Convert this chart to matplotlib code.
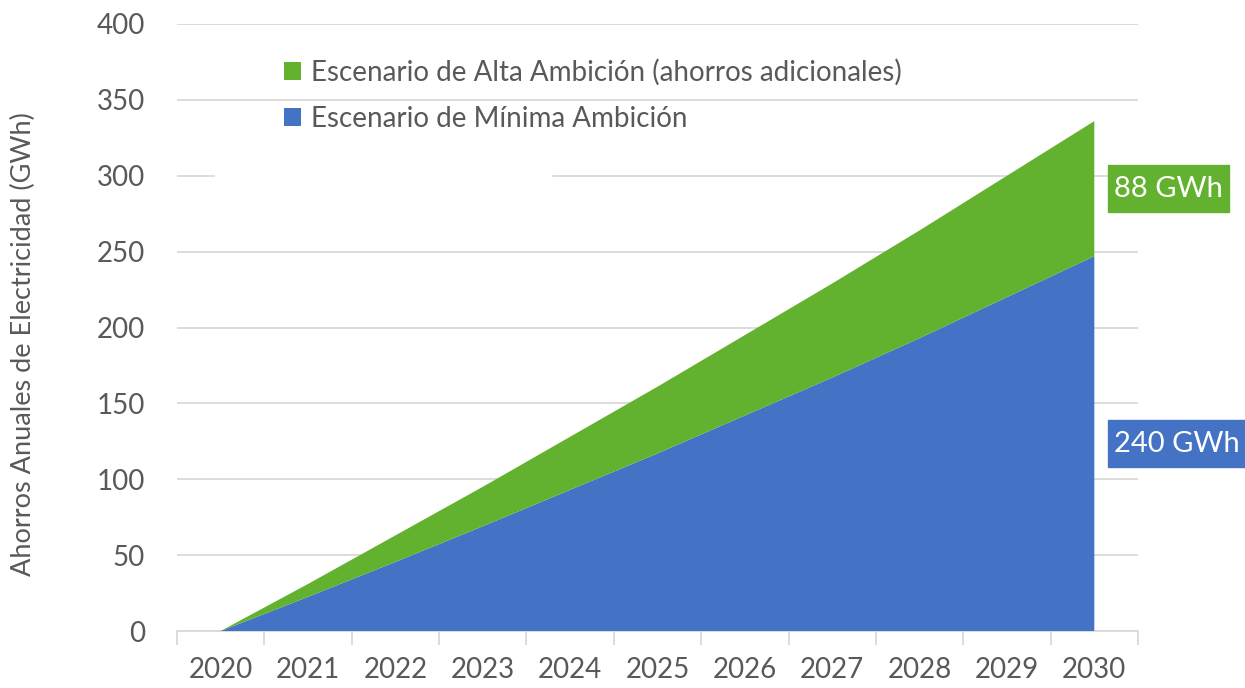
import matplotlib.pyplot as plt
from matplotlib.patches import Rectangle
import numpy as np

# data
years = ['2020', '2021', '2022', '2023', '2024', '2025', '2026', '2027', '2028', '2029', '2030']
minima = [0, 22.5, 45.5, 69, 93, 117, 142, 167, 193, 220, 247]
alta_extra = [0, 8.5, 17.5, 26, 35, 44, 53, 62, 71, 80, 89]
label_minima = '240 GWh'
label_alta = '88 GWh'

blue = '#4472c4'
green = '#63b22f'
grey = '#595959'
grid = '#d9d9d9'

plt.rcParams['font.family'] = ['Lato', 'DejaVu Sans']

fig = plt.figure(figsize=(12.45, 6.88), dpi=100)
ax = fig.add_axes([177 / 1245, 1 - 631 / 688, (1138 - 177) / 1245, (631 - 24) / 688])

x = np.arange(len(years))
ax.stackplot(x, minima, alta_extra, colors=[blue, green],
             labels=['Escenario de Mínima Ambición',
                     'Escenario de Alta Ambición (ahorros adicionales)'],
             zorder=3)

ax.set_xlim(-0.5, len(years) - 0.5)
ax.set_ylim(0, 400)
ax.set_yticks(range(0, 401, 50))
ax.yaxis.grid(True, color=grid, lw=1.3)
ax.set_axisbelow(True)

# a white patch hides part of the 300 line
ax.add_patch(Rectangle((-0.06, 292), 3.84, 16, color='white', zorder=2))

for s in ['left', 'right', 'top']:
    ax.spines[s].set_visible(False)
ax.spines['bottom'].set_color(grid)
ax.spines['bottom'].set_linewidth(1.3)

ax.set_xticks(x)
ax.set_xticklabels(years)
ax.set_xticks(np.arange(-0.5, len(years)), minor=True)
ax.tick_params(axis='x', which='major', length=0, pad=19, labelsize=20, colors=grey)
ax.tick_params(axis='x', which='minor', length=10, width=1.3, color=grid)
ax.tick_params(axis='y', length=0, pad=23, labelsize=20, colors=grey)

ax.set_ylabel('Ahorros Anuales de Electricidad (GWh)', fontsize=19.5, color=grey)
ax.yaxis.set_label_coords(-0.147, 0.473)

handles, labels = ax.get_legend_handles_labels()
leg = ax.legend(handles[::-1], labels[::-1], loc='upper left', bbox_to_anchor=(0.111, 0.942),
                frameon=False, fontsize=20, handlelength=0.62, handleheight=0.62,
                handletextpad=0.35, labelspacing=0.72, labelcolor=grey,
                borderpad=0, borderaxespad=0)

# value boxes right of the 2030 edge
ax.add_patch(Rectangle((10.153, 276), 1.386, 31, color=green, clip_on=False, zorder=4))
ax.add_patch(Rectangle((10.153, 108), 1.6, 31, color=blue, clip_on=False, zorder=4))
ax.text(10.23, 291.5, label_alta, color='white', fontsize=21, va='center', ha='left',
        clip_on=False, zorder=5)
ax.text(10.23, 123.5, label_minima, color='white', fontsize=21, va='center', ha='left',
        clip_on=False, zorder=5)

fig.savefig('out.png', dpi=100)
